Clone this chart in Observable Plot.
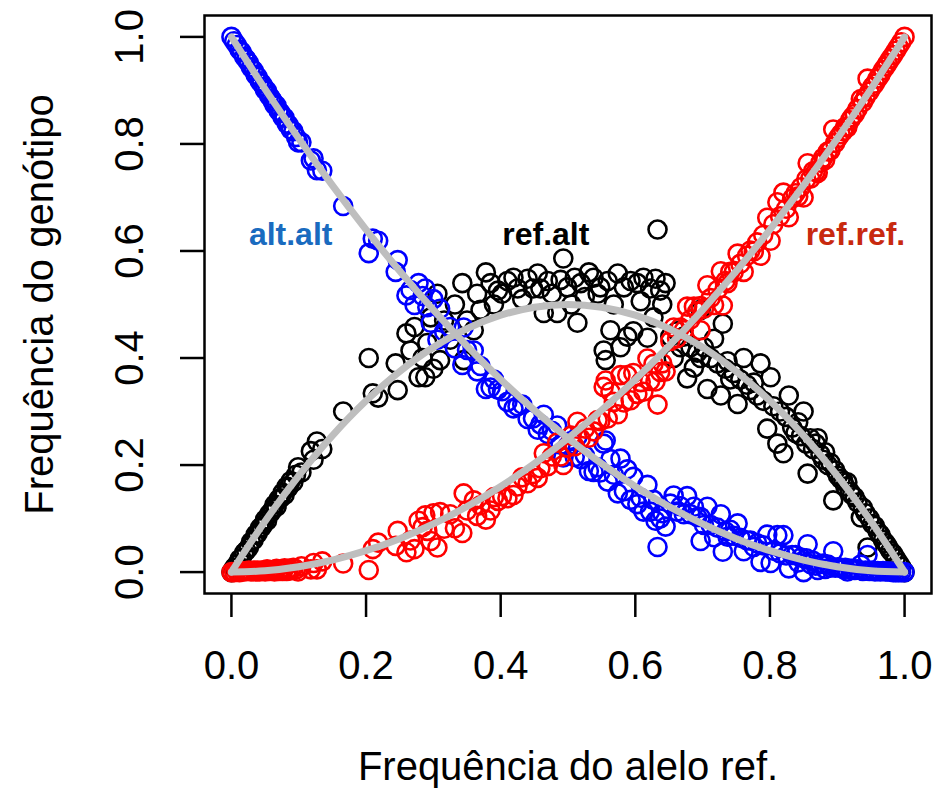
<!DOCTYPE html>
<html><head><meta charset="utf-8">
<script src="https://cdn.jsdelivr.net/npm/d3@7"></script>
<script src="https://cdn.jsdelivr.net/npm/@observablehq/plot@0.6"></script>
<style>html,body{margin:0;padding:0;background:#fff;} #chart{width:951px;height:789px;}</style>
</head><body><div id="chart"></div>
<script>
// Reference-allele frequency of each SNP
const refFreq = [
0.000,0.004,0.008,0.012,0.015,0.019,0.022,0.026,0.029,0.033,0.036,0.039,0.042,0.045,0.048,0.050,0.053,0.056,0.059,0.062,
0.064,0.067,0.070,0.073,0.076,0.079,0.082,0.085,0.088,0.092,0.096,0.099,0.104,0.118,0.122,0.127,0.135,0.166,
0.204,0.210,0.218,0.244,0.247,
0.260,0.266,0.272,0.278,0.284,0.288,0.291,0.296,0.300,0.306,0.310,0.316,0.325,0.332,0.343,0.345,0.350,0.360,0.365,0.370,
0.378,0.385,0.390,0.396,0.402,0.410,0.419,0.425,0.432,0.440,0.448,
0.455,0.459,0.464,0.470,0.476,0.484,0.489,0.493,0.499,0.505,0.510,0.514,0.519,0.525,0.531,0.538,0.544,0.548,0.553,0.556,
0.559,0.563,0.568,0.574,0.578,0.583,0.588,0.593,0.597,0.603,0.608,0.612,0.618,0.622,0.627,0.630,0.633,0.637,0.640,0.645,
0.652,0.657,0.662,0.667,0.672,0.677,0.682,0.687,0.692,0.697,0.697,0.702,0.707,0.712,0.717,0.722,0.727,0.730,0.734,0.737,
0.741,0.746,0.752,0.756,0.761,0.766,0.771,0.776,0.781,0.786,0.790,0.796,0.801,0.805,0.811,0.815,0.820,0.824,0.828,0.833,
0.838,0.842,0.846,0.850,0.854,0.856,0.860,0.864,0.868,0.871,0.875,0.879,0.882,0.886,0.890,0.894,0.897,0.901,0.905,0.909,
0.912,0.915,0.919,0.922,0.926,0.930,0.935,0.938,0.942,0.945,0.948,0.952,0.956,0.960,0.964,0.968,0.972,0.975,0.979,0.983,
0.987,0.991,0.995,1.000];
// Genotype frequency ref/ref
const refRef = [
0.000,0.000,0.001,0.000,0.002,0.001,0.002,0.003,0.001,0.003,0.001,0.003,0.001,0.003,0.003,0.001,0.005,0.002,0.003,0.003,
0.001,0.006,0.002,0.004,0.002,0.007,0.002,0.006,0.003,0.008,0.005,0.001,0.011,0.005,0.017,0.005,0.020,0.016,
0.004,0.043,0.055,0.049,0.077,
0.037,0.059,0.043,0.096,0.084,0.106,0.077,0.058,0.110,0.046,0.112,0.081,0.108,0.082,0.073,0.147,0.115,0.134,0.105,0.125,
0.098,0.115,0.140,0.133,0.142,0.138,0.144,0.160,0.177,0.166,0.183,
0.176,0.194,0.222,0.198,0.216,0.242,0.216,0.200,0.233,0.255,0.235,0.281,0.249,0.268,0.251,0.263,0.284,0.282,0.346,0.358,
0.287,0.337,0.318,0.295,0.368,0.317,0.368,0.321,0.372,0.333,0.355,0.337,0.399,0.357,0.389,0.356,0.313,0.374,0.390,0.375,
0.432,0.457,0.437,0.457,0.452,0.496,0.472,0.496,0.487,0.452,0.497,0.492,0.536,0.512,0.499,0.527,0.562,0.498,0.544,0.540,
0.561,0.560,0.595,0.576,0.561,0.591,0.601,0.599,0.616,0.591,0.630,0.662,0.619,0.650,0.691,0.665,0.709,0.679,0.663,0.698,
0.708,0.702,0.719,0.700,0.734,0.764,0.735,0.749,0.748,0.746,0.765,0.774,0.770,0.786,0.788,0.827,0.802,0.811,0.818,0.824,
0.832,0.831,0.844,0.850,0.856,0.865,0.884,0.878,0.887,0.922,0.898,0.907,0.913,0.922,0.929,0.938,0.945,0.951,0.959,0.966,
0.974,0.982,0.990,1.000];
// Genotype frequency ref/alt
const refAlt = [
0.000,0.008,0.014,0.024,0.026,0.036,0.040,0.046,0.056,0.060,0.070,0.072,0.082,0.084,0.090,0.098,0.096,0.108,0.112,0.118,
0.126,0.122,0.136,0.138,0.148,0.144,0.160,0.158,0.170,0.168,0.182,0.196,0.186,0.226,0.210,0.244,0.230,0.300,
0.400,0.334,0.326,0.390,0.340,
0.446,0.414,0.458,0.364,0.400,0.364,0.428,0.476,0.380,0.520,0.396,0.470,0.434,0.500,0.540,0.396,0.470,0.452,0.520,0.490,
0.560,0.540,0.500,0.526,0.520,0.544,0.550,0.530,0.510,0.548,0.530,
0.558,0.530,0.484,0.544,0.520,0.484,0.546,0.586,0.532,0.500,0.550,0.466,0.540,0.514,0.560,0.550,0.520,0.532,0.414,0.396,
0.544,0.452,0.500,0.558,0.420,0.532,0.440,0.544,0.450,0.540,0.506,0.550,0.438,0.530,0.476,0.548,0.640,0.526,0.500,0.540,
0.440,0.400,0.450,0.420,0.440,0.362,0.420,0.382,0.410,0.490,0.400,0.420,0.342,0.400,0.436,0.390,0.330,0.464,0.380,0.394,
0.360,0.372,0.314,0.360,0.400,0.350,0.340,0.354,0.330,0.390,0.320,0.268,0.364,0.310,0.240,0.300,0.222,0.290,0.330,0.270,
0.260,0.280,0.254,0.300,0.240,0.184,0.250,0.230,0.240,0.250,0.220,0.210,0.224,0.200,0.204,0.134,0.190,0.180,0.174,0.170,
0.160,0.168,0.150,0.144,0.140,0.130,0.102,0.120,0.110,0.046,0.100,0.090,0.086,0.076,0.070,0.060,0.054,0.048,0.040,0.034,
0.026,0.018,0.010,0.000];
// Genotype frequency alt/alt
const altAlt = [
1.000,0.992,0.985,0.976,0.972,0.963,0.958,0.951,0.943,0.937,0.929,0.925,0.917,0.913,0.907,0.901,0.899,0.890,0.885,0.879,
0.873,0.872,0.862,0.858,0.850,0.849,0.838,0.836,0.827,0.824,0.813,0.803,0.803,0.769,0.773,0.751,0.750,0.684,
0.596,0.623,0.619,0.561,0.583,
0.517,0.527,0.499,0.540,0.516,0.530,0.495,0.466,0.510,0.434,0.492,0.449,0.458,0.418,0.387,0.457,0.415,0.414,0.375,0.385,
0.342,0.345,0.360,0.341,0.338,0.318,0.306,0.310,0.313,0.286,0.287,
0.266,0.276,0.294,0.258,0.264,0.274,0.238,0.214,0.235,0.245,0.215,0.253,0.211,0.218,0.189,0.187,0.196,0.186,0.240,0.246,
0.169,0.211,0.182,0.147,0.212,0.151,0.192,0.135,0.178,0.127,0.139,0.113,0.163,0.113,0.135,0.096,0.047,0.100,0.110,0.085,
0.128,0.143,0.113,0.123,0.108,0.142,0.108,0.122,0.103,0.058,0.103,0.088,0.122,0.088,0.065,0.083,0.108,0.038,0.076,0.066,
0.079,0.068,0.091,0.064,0.039,0.059,0.059,0.047,0.054,0.019,0.050,0.070,0.017,0.040,0.069,0.035,0.069,0.031,0.007,0.032,
0.032,0.018,0.027,0.000,0.026,0.052,0.015,0.021,0.012,0.004,0.015,0.016,0.006,0.014,0.008,0.039,0.008,0.009,0.008,0.006,
0.008,0.001,0.006,0.006,0.004,0.005,0.014,0.002,0.003,0.032,0.002,0.003,0.001,0.002,0.001,0.002,0.001,0.001,0.001,0.000,
0.000,0.000,0.000,0.000];

// Hardy-Weinberg expectation curves (read at a 0.05 grid)
const curveFreq   = [0,0.05,0.10,0.15,0.20,0.25,0.30,0.35,0.40,0.45,0.50,0.55,0.60,0.65,0.70,0.75,0.80,0.85,0.90,0.95,1];
const curveRefRef = [0,0.0025,0.01,0.0225,0.04,0.0625,0.09,0.1225,0.16,0.2025,0.25,0.3025,0.36,0.4225,0.49,0.5625,0.64,0.7225,0.81,0.9025,1];
const curveRefAlt = [0,0.095,0.18,0.255,0.32,0.375,0.42,0.455,0.48,0.495,0.5,0.495,0.48,0.455,0.42,0.375,0.32,0.255,0.18,0.095,0];
const curveAltAlt = [1,0.9025,0.81,0.7225,0.64,0.5625,0.49,0.4225,0.36,0.3025,0.25,0.2025,0.16,0.1225,0.09,0.0625,0.04,0.0225,0.01,0.0025,0];

const xTicks = [0, 0.2, 0.4, 0.6, 0.8, 1.0];
const yTicks = [0, 0.2, 0.4, 0.6, 0.8, 1.0];
const seriesLabels = ["alt.alt", "ref.alt", "ref.ref."];
const labelX = [0.088, 0.467, 0.927];
const labelY = [0.631, 0.631, 0.631];
const labelColors = ["#1a6bbf", "#000000", "#c8290f"];
const xTitle = "Frequência do alelo ref.";
const yTitle = "Frequência do genótipo";

const fmt = d3.format(".1f");
const pts = ys => refFreq.map((p, i) => ({x: p, y: ys[i]}));
const crv = ys => curveFreq.map((p, i) => ({x: p, y: ys[i]}));
const labels = seriesLabels.map((t, i) => ({t, x: labelX[i], y: labelY[i], c: labelColors[i]}));
const FONT = "'Liberation Sans', Arial, Helvetica, sans-serif";

const dotOpts = (stroke) => ({x: "x", y: "y", r: 9, stroke, strokeWidth: 2.6, fill: "none"});
const lineOpts = {x: "x", y: "y", stroke: "#bebebe", strokeWidth: 7, curve: "catmull-rom", strokeLinecap: "round", strokeLinejoin: "round"};

const chart = Plot.plot({
  width: 951, height: 789,
  marginLeft: 204, marginRight: 20, marginTop: 15, marginBottom: 196,
  x: {domain: [-0.04, 1.04], axis: null},
  y: {domain: [-0.04, 1.04], axis: null},
  style: {fontFamily: FONT, background: "white", color: "black", overflow: "visible"},
  marks: [
    Plot.dot(pts(refAlt), dotOpts("black")),
    Plot.dot(pts(altAlt), dotOpts("#0000ff")),
    Plot.dot(pts(refRef), dotOpts("#ff0000")),
    Plot.line(crv(curveRefRef), lineOpts),
    Plot.line(crv(curveRefAlt), lineOpts),
    Plot.line(crv(curveAltAlt), lineOpts),
    Plot.text(labels, {x: "x", y: "y", text: "t", fill: "c", fontSize: 32, fontWeight: "bold"}),
    Plot.frame({stroke: "black", strokeWidth: 2.5}),
    Plot.axisX(xTicks, {tickFormat: fmt, tickSize: 24, tickPadding: 33, fontSize: 40, strokeWidth: 2.5, label: null}),
    Plot.axisY(yTicks, {tickFormat: () => "", tickSize: 24, strokeWidth: 2.5, label: null}),
    Plot.text(yTicks, {frameAnchor: "left", y: d => d, text: d => fmt(d), rotate: -90, dx: -74, fontSize: 40, textAnchor: "middle", lineAnchor: "middle"}),
    Plot.text([xTitle], {frameAnchor: "bottom", dy: 174, fontSize: 40, textAnchor: "middle", lineAnchor: "middle"}),
    Plot.text([yTitle], {frameAnchor: "left", rotate: -90, dx: -164, fontSize: 40, textAnchor: "middle", lineAnchor: "middle"})
  ]
});
document.getElementById("chart").appendChild(chart);
</script>
</body></html>
